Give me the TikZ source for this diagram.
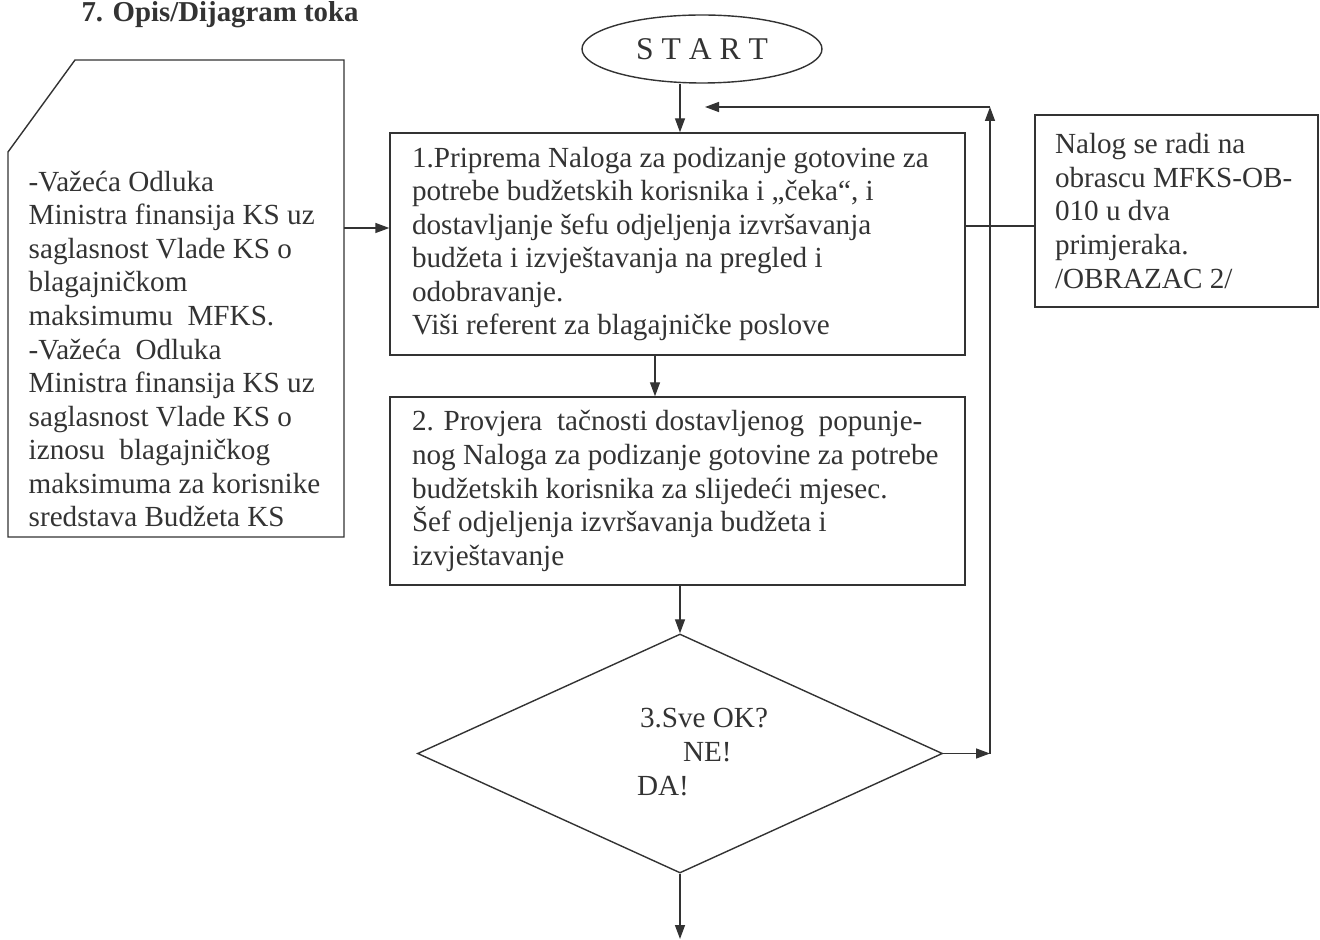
\documentclass[tikz,border=0pt]{standalone}
\usepackage{fontspec}
\setmainfont{Liberation Serif}
\usetikzlibrary{shapes.geometric,arrows.meta}
\begin{document}
\begin{tikzpicture}[color=black!80, line width=0.8pt,
		every node/.style={font=\fontsize{16.6}{19.1}\selectfont},
		box/.style={draw, align=flush left, text width=10.62cm, inner xsep=0.44cm},
		arr/.style={-{Triangle[length=0.28cm,width=0.2cm]}}]
		\useasboundingbox (0,0) rectangle (26.4,-18.8);
		\node[font=\fontsize{16.4}{19}\selectfont\bfseries] (title) at (4.4,-0.3) {7. Opis/Dijagram toka};
		% left card with cut corner
		\draw (0.16,-3.04) -- (1.5,-1.2) -- (6.88,-1.2) -- (6.88,-10.74) -- (0.16,-10.74) -- cycle;
		\node[align=flush left, anchor=west, inner sep=0] (odluka) at (0.56,-6.98) {-Važeća Odluka\\Ministra finansija KS uz\\saglasnost Vlade KS o\\blagajničkom\\maksimumu~ MFKS.\\-Važeća~ Odluka\\Ministra finansija KS uz\\saglasnost Vlade KS o\\iznosu~ blagajničkog\\maksimuma za korisnike\\sredstava Budžeta KS};
		\coordinate (cardout) at (6.88,-4.56);
		\node[draw, ellipse, minimum width=4.8cm, minimum height=1.36cm, inner sep=0, font=\fontsize{18}{21}\selectfont] (start) at (14.04,-0.98) {S T A R T};
		\node[box, minimum height=4.44cm] (priprema) at (13.55,-4.88) {1.Priprema Naloga za podizanje gotovine za\\potrebe budžetskih korisnika i „čeka“, i\\dostavljanje šefu odjeljenja izvršavanja\\budžeta i izvještavanja na pregled i\\odobravanje.\\Viši referent za blagajničke poslove};
		\node[box, minimum height=3.76cm] (provjera) at (13.55,-9.82) {2. Provjera~ tačnosti dostavljenog~ popunje-\\\mbox{nog Naloga za podizanje gotovine za potrebe}\\budžetskih korisnika za slijedeći mjesec.\\Šef odjeljenja izvršavanja budžeta i\\izvještavanje};
		\node[draw, align=flush left, text width=4.86cm, inner xsep=0.4cm, minimum height=3.84cm] (obrazac) at (23.53,-4.22) {Nalog se radi na\\obrascu MFKS-OB-\\010 u dva\\primjeraka.\\/OBRAZAC 2/};
		\node[draw, diamond, minimum width=10.5cm, minimum height=4.78cm, inner sep=0] (sveok) at (13.6,-15.07) {};
		\node[align=flush left, inner sep=0] (odgovor) at (14.05,-15.04) {\hspace{0.06cm}3.Sve OK?\\\hspace{0.92cm}NE!\\DA!};
		\coordinate (loopbot) at (19.8,-15.07);
		\coordinate (looptop) at (19.8,-2.14);
		\coordinate (loopend) at (14.1,-2.14);
		\coordinate (linky) at (0,-4.52);
		\coordinate (kraj) at (13.6,-18.78);
		% connectors
		\draw[arr] (13.6,0 |- start.south) -- (13.6,0 |- priprema.north);
		\draw[arr] (cardout) -- (cardout -| priprema.west);
		\draw (priprema.east |- linky) -- (obrazac.west |- linky);
		\draw[arr] (13.1,0 |- priprema.south) -- (13.1,0 |- provjera.north);
		\draw[arr] (13.6,0 |- provjera.south) -- (sveok.north);
		\draw[arr] (sveok.east) -- (loopbot);
		\draw[arr] (loopbot) -- (looptop);
		\draw[arr] (looptop) -- (loopend);
		\draw[arr] (sveok.south) -- (kraj);
	\end{tikzpicture}
\end{document}
